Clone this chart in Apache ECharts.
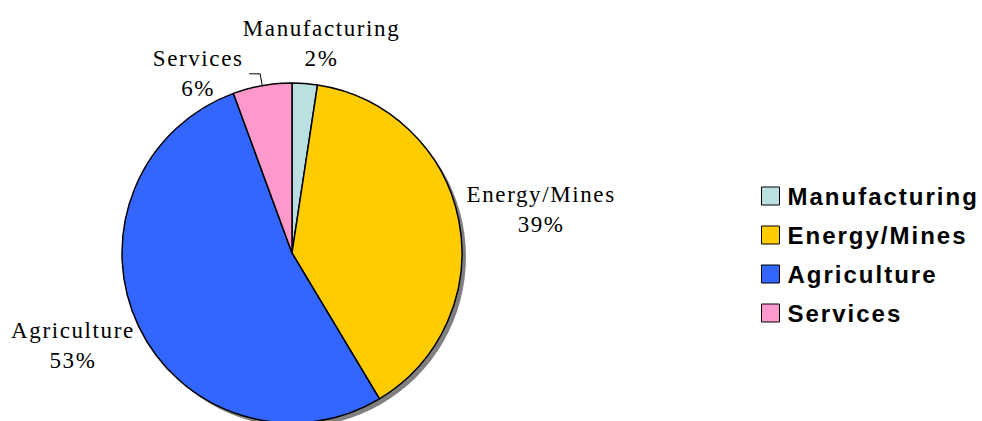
<!DOCTYPE html>
<html>
<head>
<meta charset="utf-8">
<script src="https://cdn.jsdelivr.net/npm/echarts@6/dist/echarts.min.js"></script>
<style>
html,body{margin:0;padding:0;background:#fff;}
#c{width:982px;height:421px;}
text[style*="Serif"]{letter-spacing:1.6px;}
text[style*="Sans"]{letter-spacing:2px;}
</style>
</head>
<body>
<div id="c"></div>
<script>
const categories = ['Manufacturing', 'Energy/Mines', 'Agriculture', 'Services'];
const values = [2.4, 39.0, 53.0, 5.6];
const percentLabels = ['2%', '39%', '53%', '6%'];
const colors = ['#BBE0E2', '#FFCC00', '#3366FF', '#FF99CC'];

const CX = 292, CY = 253, R = 170;
// label placement: distance from centre and angle (deg, clockwise from top); null = default leader-line placement
const labelDist = [212, 253, 238, null];
const labelAngle = [8, 80, 247, null];

const chart = echarts.init(document.getElementById('c'), null, {renderer: 'svg'});
chart.setOption({
  backgroundColor: '#fff',
  animation: false,
  legend: {
    orient: 'vertical',
    left: 761,
    top: 184,
    padding: 0,
    itemWidth: 18,
    itemHeight: 18,
    itemGap: 15,
    icon: 'rect',
    data: categories,
    itemStyle: {borderColor: '#000', borderWidth: 1},
    textStyle: {
      fontFamily: 'Liberation Sans',
      fontWeight: 'bold',
      fontSize: 24,
      color: '#000',
      padding: [2, 0, 0, 3]
    }
  },
  series: [
    {
      type: 'pie',
      silent: true,
      center: [CX + 4, CY + 4],
      radius: R,
      label: {show: false},
      labelLine: {show: false},
      itemStyle: {color: '#808080', borderWidth: 0},
      data: [{name: '__shadow', value: 1}],
      z: 1
    },
    {
      type: 'pie',
      center: [CX, CY],
      radius: R,
      startAngle: 90,
      clockwise: true,
      z: 2,
      itemStyle: {borderColor: '#000', borderWidth: 1.5},
      label: {
        show: true,
        position: 'outside',
        distanceToLabelLine: 3,
        fontFamily: 'Liberation Serif',
        fontSize: 23,
        lineHeight: 30,
        color: '#000',
        formatter: p => '{a|' + p.name + '}\n{a|' + percentLabels[p.dataIndex] + '}',
        rich: {
          a: {fontFamily: 'Liberation Serif', fontSize: 23, lineHeight: 30, color: '#000', width: 96, align: 'center'}
        }
      },
      labelLine: {show: false, length: 12, length2: 11, lineStyle: {color: '#000', width: 1}},
      labelLayout: function (p) {
        const i = p.dataIndex;
        if (labelDist[i] == null) return;
        const a = labelAngle[i] * Math.PI / 180;
        return {
          x: CX + labelDist[i] * Math.sin(a),
          y: CY - labelDist[i] * Math.cos(a),
          align: 'center',
          verticalAlign: 'middle'
        };
      },
      data: categories.map((c, i) => ({
        name: c,
        value: values[i],
        itemStyle: {color: colors[i]},
        labelLine: i === 3 ? {show: true} : undefined
      }))
    }
  ]
});
</script>
</body>
</html>
